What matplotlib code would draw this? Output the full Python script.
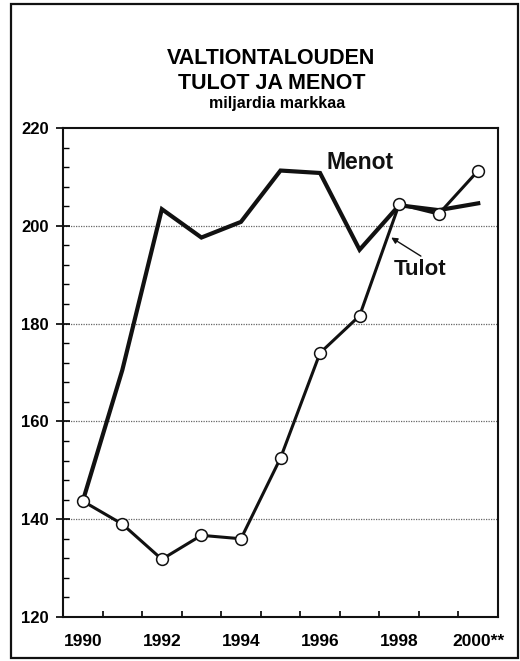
import numpy as np
import matplotlib.pyplot as plt
from matplotlib.patches import Rectangle
from matplotlib.ticker import MultipleLocator, FixedLocator

plt.rcParams['font.family'] = ['Liberation Sans', 'DejaVu Sans']
plt.rcParams['font.weight'] = 'bold'

vuodet = ['1990', '1991', '1992', '1993', '1994', '1995',
          '1996', '1997', '1998', '1999', '2000**']
menot = [143.7, 170.5, 203.4, 197.6, 200.8, 211.3,
         210.8, 195.1, 204.2, 203.2, 204.6]
tulot = [143.7, 139.0, 131.8, 136.7, 136.0, 152.5,
         174.0, 181.6, 204.4, 202.4, 211.3]

fig = plt.figure(figsize=(5.2, 6.61), dpi=100)
ax = fig.add_axes([63/520, 44/661, 435/520, 489/661])

x = np.arange(len(vuodet))

# apuviivat
for g in [140, 160, 180, 200]:
    ax.axhline(g, color='#666666', lw=0.9, ls=(0, (1, 1)), zorder=1)

ax.plot(x, menot, color='#111111', lw=3.0, solid_joinstyle='miter', zorder=3)
ax.plot(x, tulot, color='#111111', lw=2.2, marker='o', markersize=8.5,
        markerfacecolor='white', markeredgecolor='#111111', markeredgewidth=1.1,
        zorder=4)

ax.set_xlim(-0.5, len(vuodet) - 0.5)
ax.set_ylim(120, 220)

ax.set_xticks(x)
ax.set_xticklabels(['1990', '', '1992', '', '1994', '', '1996', '', '1998', '', '2000**'])
ax.xaxis.set_minor_locator(FixedLocator(np.arange(0.5, len(vuodet) - 1, 1.0)))
ax.tick_params(axis='x', which='major', length=0, pad=12, labelsize=12.5)
ax.tick_params(axis='x', which='minor', direction='in', length=4, width=1.2)

ax.yaxis.set_major_locator(MultipleLocator(20))
ax.yaxis.set_minor_locator(MultipleLocator(4))
ax.tick_params(axis='y', which='major', direction='inout', length=10, width=1.2,
               pad=5, labelsize=12)
ax.tick_params(axis='y', which='minor', direction='in', length=4, width=1.0)

for s in ax.spines.values():
    s.set_linewidth(1.5)
    s.set_color('#111111')

ax.text(7.0, 213.0, 'Menot', fontsize=16.5, fontweight='bold',
        ha='center', va='center', color='#111111')
ax.text(8.52, 191.0, 'Tulot', fontsize=16, fontweight='bold',
        ha='center', va='center', color='#111111')
ax.annotate('', xy=(7.8, 197.6), xytext=(8.55, 193.8),
            arrowprops=dict(arrowstyle='-|>', color='#111111', lw=1.0,
                            mutation_scale=9, shrinkA=0, shrinkB=0))

fig.text(0.522, 0.9115, 'VALTIONTALOUDEN', fontsize=15.5, fontweight='bold',
         ha='center', va='center')
fig.text(0.522, 0.873, 'TULOT JA MENOT', fontsize=15.5, fontweight='bold',
         ha='center', va='center')
fig.text(0.532, 0.8434, 'miljardia markkaa', fontsize=11.5, fontweight='bold',
         ha='center', va='center')

# kehys koko kuvan ympärille
fig.patches.append(Rectangle((11/520, 3/661), 507/520, 654/661,
                             transform=fig.transFigure, fill=False,
                             lw=1.6, edgecolor='#111111'))

fig.savefig('out.png', dpi=100)
